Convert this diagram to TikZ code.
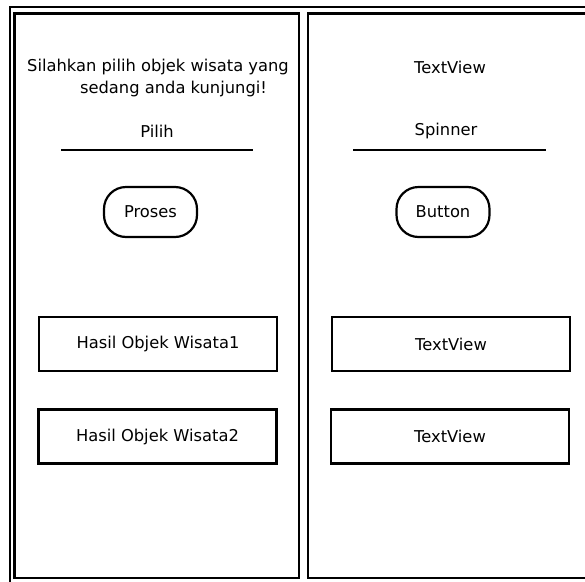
\documentclass[tikz,border=0pt]{standalone}
\usepackage{fontspec}
\setmainfont{DejaVu Sans}
\begin{document}
\begin{tikzpicture}[x=1pt,y=-1pt,
  lbl/.style={inner sep=0pt, font=\fontsize{16.3}{22}\selectfont, align=center},
  frame/.style={draw, line width=2.4pt},
  panel/.style={draw, line width=2.2pt},
  box/.style={draw, line width=2.2pt, minimum width=238pt, minimum height=54pt, font=\fontsize{16.3}{20}\selectfont},
  pill/.style={draw, line width=2.2pt, rounded corners=22pt, minimum width=93pt, minimum height=50pt, font=\fontsize{16.3}{20}\selectfont},
  rule/.style={line width=2pt}]
\useasboundingbox (0,0) rectangle (585,581);
\clip (0,0) rectangle (585,581);
\draw[frame] (10,7) rectangle (620,620);
\draw[panel] (14.5,13.5) rectangle (299,578);
\draw[panel] (308,13.5) rectangle (620,578);
% left panel
\node[lbl] (intro) at (158,78) {Silahkan pilih objek wisata yang\\\hspace*{31pt}sedang anda kunjungi!};
\node[lbl] (pilih) at (157,131) {Pilih};
\coordinate (l1) at (61,150);
\coordinate (l2) at (253,150);
\draw[rule] (l1) -- (l2);
\node[pill] (proses) at (150.5,212) {Proses};
\node[box] (h1) at (158,344) {Hasil Objek Wisata1};
\node[box] (h2) at (157.5,436.5) {Hasil Objek Wisata2};
% right panel
\node[lbl] (tv0) at (450,67) {TextView};
\node[lbl] (spin) at (446,131) {Spinner};
\coordinate (r1) at (353,150);
\coordinate (r2) at (546,150);
\draw[rule] (r1) -- (r2);
\node[pill] (btn) at (443,212) {Button};
\node[box] (tv1) at (451,344) {TextView};
\node[box] (tv2) at (450,436.5) {TextView};
\end{tikzpicture}
\end{document}
